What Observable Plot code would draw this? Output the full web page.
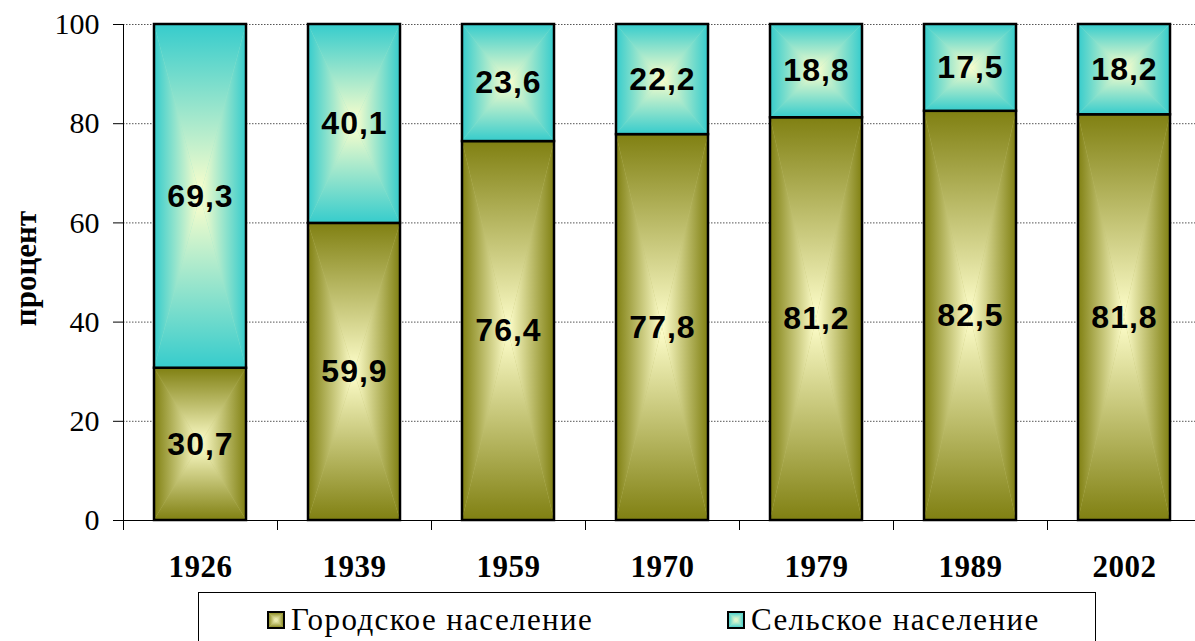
<!DOCTYPE html>
<html>
<head>
<meta charset="utf-8">
<script src="https://cdn.jsdelivr.net/npm/d3@7"></script>
<script src="https://cdn.jsdelivr.net/npm/@observablehq/plot@0.6"></script>
<style>
  html, body { margin: 0; padding: 0; background: #fff; }
  #wrap { position: relative; width: 1195px; height: 641px; overflow: hidden; }
  #legend {
    position: absolute; left: 198px; top: 592px; width: 898px; height: 70px;
    border: 1.5px solid #000; box-sizing: border-box; background: #fff;
    font-family: "Liberation Serif", "Times New Roman", serif; font-size: 31px; letter-spacing: 1.4px; color: #000;
  }
  .item { position: absolute; top: 9px; display: flex; align-items: center; white-space: nowrap; }
  .item svg { margin-right: 6px; }
  .barlabel text { letter-spacing: 1px; }
  .xlabels text { letter-spacing: 0.5px; }
</style>
</head>
<body>
<div id="wrap">
  <div id="chart"></div>
  <div id="legend"></div>
</div>
<script>
const years = ["1926", "1939", "1959", "1970", "1979", "1989", "2002"];
const urban = [30.7, 59.9, 76.4, 77.8, 81.2, 82.5, 81.8];
const rural = [69.3, 40.1, 23.6, 22.2, 18.8, 17.5, 18.2];
const seriesNames = ["Городское население", "Сельское население"];
const yTicks = [0, 20, 40, 60, 80, 100];
const yLabel = "процент";

const edgeColors = ["#808012", "#36cccc"];
const centerColor = "#ffffcc";
const patternIds = ["pat-urban", "pat-rural"];

const rows = years.map((year, i) => ({year, urban: urban[i], rural: rural[i]}));
const fmt = v => v.toFixed(1).replace(".", ",");

function patternMarkup(id, edge, center) {
  const stops = `<stop offset="0" stop-color="${edge}"/><stop offset="1" stop-color="${center}"/>`;
  return `
  <linearGradient id="${id}-t" x1="0" y1="0" x2="0" y2="1">${stops}</linearGradient>
  <linearGradient id="${id}-b" x1="0" y1="1" x2="0" y2="0">${stops}</linearGradient>
  <linearGradient id="${id}-l" x1="0" y1="0" x2="1" y2="0">${stops}</linearGradient>
  <linearGradient id="${id}-r" x1="1" y1="0" x2="0" y2="0">${stops}</linearGradient>
  <pattern id="${id}" patternUnits="objectBoundingBox" patternContentUnits="objectBoundingBox" width="1" height="1">
    <rect x="0" y="0" width="1" height="1" fill="${d3.interpolateRgb(edge, center)(0.5)}"/>
    <polygon points="0,0 1,0 0.5,0.5" fill="url(#${id}-t)"/>
    <polygon points="0,1 1,1 0.5,0.5" fill="url(#${id}-b)"/>
    <polygon points="0,0 0,1 0.5,0.5" fill="url(#${id}-l)"/>
    <polygon points="1,0 1,1 0.5,0.5" fill="url(#${id}-r)"/>
  </pattern>`;
}

const W = 1195, H = 590;
const step = (W + 6 - 123) / years.length;

const chart = Plot.plot({
  width: W,
  height: H,
  marginLeft: 123,
  marginRight: 0,
  marginTop: 24,
  marginBottom: 70,
  style: {fontFamily: "'Liberation Serif', 'Times New Roman', serif", fontSize: "30px", color: "#000", background: "#fff"},
  x: {domain: years, range: [123, W + 6], paddingInner: 0.4, paddingOuter: 0.2, label: null},
  y: {domain: [0, 100], label: null},
  marks: [
    Plot.ruleY(yTicks.filter(t => t > 0), {stroke: "#555", strokeWidth: 1, strokeDasharray: "1.5,1.5"}),
    Plot.barY(rows, {x: "year", y1: d => 0, y2: "urban", fill: "url(#" + patternIds[0] + ")", stroke: "#000", strokeWidth: 2.5}),
    Plot.barY(rows, {x: "year", y1: "urban", y2: d => d.urban + d.rural, fill: "url(#" + patternIds[1] + ")", stroke: "#000", strokeWidth: 2.5}),
    Plot.text(rows, {x: "year", y: d => d.urban / 2, text: d => fmt(d.urban), className: "barlabel", fontFamily: "'Liberation Sans', Arial, sans-serif", fontWeight: "bold", fontSize: 32, fill: "#000"}),
    Plot.text(rows, {x: "year", y: d => d.urban + d.rural / 2, text: d => fmt(d.rural), className: "barlabel", fontFamily: "'Liberation Sans', Arial, sans-serif", fontWeight: "bold", fontSize: 32, fill: "#000"}),
    Plot.ruleY([0], {stroke: "#000", strokeWidth: 1}),
    Plot.ruleX([years[0]], {x: d => d, y1: d => 0, y2: d => 100, dx: -step / 2, stroke: "#000", strokeWidth: 1}),
    Plot.axisY({ticks: yTicks, tickSize: 10, tickPadding: 14, fontSize: 30, label: null, tickFormat: d => String(d)}),
    Plot.axisX({ticks: years, tickSize: 10, tickFormat: () => "", dx: -step / 2, label: null}),
    Plot.axisX({ticks: years, tickSize: 0, tickPadding: 34, fontSize: 31, fontWeight: "bold", className: "xlabels", label: null}),
    Plot.text([yLabel], {text: d => d, frameAnchor: "left", textAnchor: "middle", dx: -97, dy: -4, rotate: -90, fontSize: 31, fontWeight: "bold", fill: "#000"})
  ]
});

const defs = document.createElementNS("http://www.w3.org/2000/svg", "defs");
defs.innerHTML = patternIds.map((id, i) => patternMarkup(id, edgeColors[i], centerColor)).join("");
chart.insertBefore(defs, chart.firstChild);
document.getElementById("chart").appendChild(chart);

const legend = document.getElementById("legend");
const itemLefts = [68, 528];
seriesNames.forEach((name, i) => {
  const item = document.createElement("div");
  item.className = "item";
  item.style.left = itemLefts[i] + "px";
  item.innerHTML = `<svg width="18" height="18"><rect x="1" y="1" width="16" height="16" fill="url(#${patternIds[i]})" stroke="#000" stroke-width="2"/></svg><span>${name}</span>`;
  legend.appendChild(item);
});
</script>
</body>
</html>
